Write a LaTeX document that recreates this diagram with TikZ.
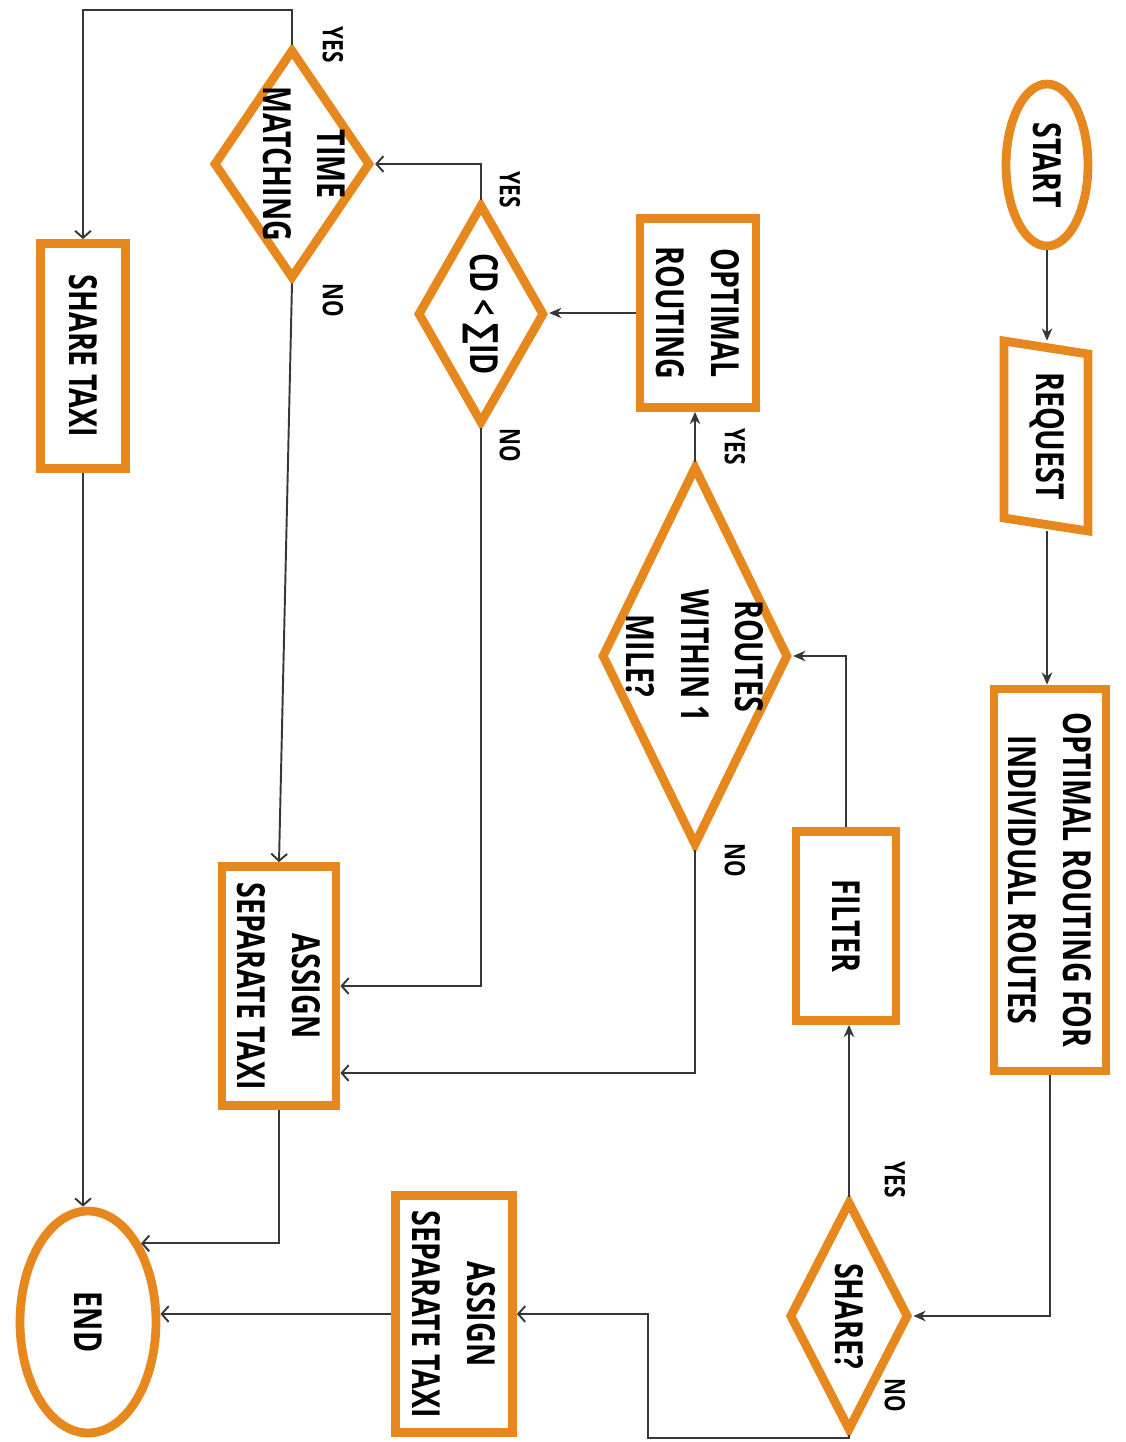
\documentclass[tikz,border=0pt]{standalone}
\usepackage{fontspec}
\usetikzlibrary{shapes.geometric,arrows.meta,calc}
\newfontfamily\cond[FakeStretch=0.74]{Open Sans}
\newfontfamily\symf[FakeStretch=0.74]{DejaVu Sans}
\definecolor{flow}{RGB}{230,136,30}
\definecolor{linec}{RGB}{55,55,55}
\begin{document}
\begin{tikzpicture}[x=0.02cm,y=0.02cm,
  box/.style={draw=flow,line width=5pt,fill=white,rotate=-90,align=center,
    font=\cond\bfseries\fontsize{22}{31}\selectfont,inner sep=0pt},
  dia/.style={draw=flow,line width=5pt,fill=white,rotate=-90,diamond,inner sep=0pt},
  txt/.style={rotate=-90,align=center,font=\cond\bfseries\fontsize{22}{31}\selectfont,inner sep=0pt},
  lab/.style={rotate=-90,font=\cond\bfseries\fontsize{16}{18}\selectfont,inner sep=0pt},
  wire/.style={draw=linec,line width=1.1pt},
  fa/.style={-{Stealth[length=7pt,width=6pt]}},
  oa/.style={-{Straight Barb[length=4pt,width=9pt]}}]
\useasboundingbox (0,0) rectangle (1125,-1442);
% shapes
\node[box,ellipse,minimum width=3.24cm,minimum height=1.64cm] (start) at (1047,-165) {START};
\draw[draw=flow,line width=5pt] (1004,-341) -- (1088,-354) -- (1088,-531) -- (1004,-518) -- cycle;
\node[txt,minimum width=3.8cm,minimum height=1.8cm] (req) at (1047,-436) {REQUEST};
\node[box,minimum width=7.64cm,minimum height=2.24cm] (oind) at (1050,-880) {OPTIMAL ROUTING FOR\\INDIVIDUAL ROUTES};
\node[dia,minimum width=4.6cm,minimum height=2.4cm] (share) at (849,-1316) {};
\node[txt] (sharet) at (849,-1316) {SHARE?};
\node[box,minimum width=3.78cm,minimum height=2.0cm] (filter) at (846,-926) {FILTER};
\node[dia,minimum width=7.6cm,minimum height=3.75cm] (routes) at (695,-656) {};
\node[txt] (routest) at (695,-656) {ROUTES\\WITHIN 1\\MILE?};
\node[box,minimum width=3.78cm,minimum height=2.32cm] (orout) at (698,-313) {OPTIMAL\\ROUTING};
\node[dia,minimum width=4.4cm,minimum height=2.55cm] (cd) at (481,-314) {};
\node[txt] (cdt) at (481,-314) {CD < {\symf ∑}ID};
\node[dia,minimum width=4.6cm,minimum height=3.15cm] (time) at (292,-164) {};
\node[txt] (timet) at (304,-164) {TIME\\MATCHING};
\node[box,minimum width=4.5cm,minimum height=1.7cm] (staxi) at (83,-356) {SHARE TAXI};
\node[box,minimum width=4.78cm,minimum height=2.28cm] (asg1) at (279,-986) {ASSIGN\\SEPARATE TAXI};
\node[box,minimum width=4.74cm,minimum height=2.34cm] (asg2) at (454,-1314) {ASSIGN\\SEPARATE TAXI};
\node[box,ellipse,minimum width=4.44cm,minimum height=2.72cm] (endn) at (88,-1322) {END};
% labels
\node[lab] (ly1) at (895,-1180) {YES};
\node[lab] (ln1) at (895,-1395) {NO};
\node[lab] (ly2) at (735,-447) {YES};
\node[lab] (ln2) at (735,-860) {NO};
\node[lab] (ly3) at (510,-190) {YES};
\node[lab] (ln3) at (510,-445) {NO};
\node[lab] (ly4) at (333,-45) {YES};
\node[lab] (ln4) at (333,-300) {NO};
% connectors
\draw[wire,fa] (start.east) -- (req.west);
\draw[wire,fa] (req.east) -- (req.east |- oind.west);
\draw[wire,fa] (oind.east) |- (share.north);
\draw[wire,fa] (share.west) -- (share.west |- filter.east);
\draw[wire,fa] (filter.west) |- (routes.north);
\draw[wire,fa] (routes.west) -- (routes.west |- orout.east);
\draw[wire,fa] (orout.south) -- (orout.south -| cd.north);
\draw[wire,oa] (cd.west) |- (time.north);
\draw[wire,oa] (cd.east) |- (asg1.north);
\draw[wire,oa] (routes.east) |- ($(asg1.north)+(0,-87)$);
\draw[wire,oa] (time.west) -- ++(0,35) -| (staxi.west);
\draw[wire,oa] (time.east) -- (asg1.west);
\draw[wire,oa] (asg1.east) |- (endn.146);
\draw[wire,oa] (staxi.east) -- (staxi.east |- endn.west);
\coordinate (k) at (648,-1438);
\draw[wire,oa] (share.east) |- (k) |- (asg2.north);
\draw[wire,oa] (asg2.south) -- (asg2.south -| endn.north);
\end{tikzpicture}
\end{document}
